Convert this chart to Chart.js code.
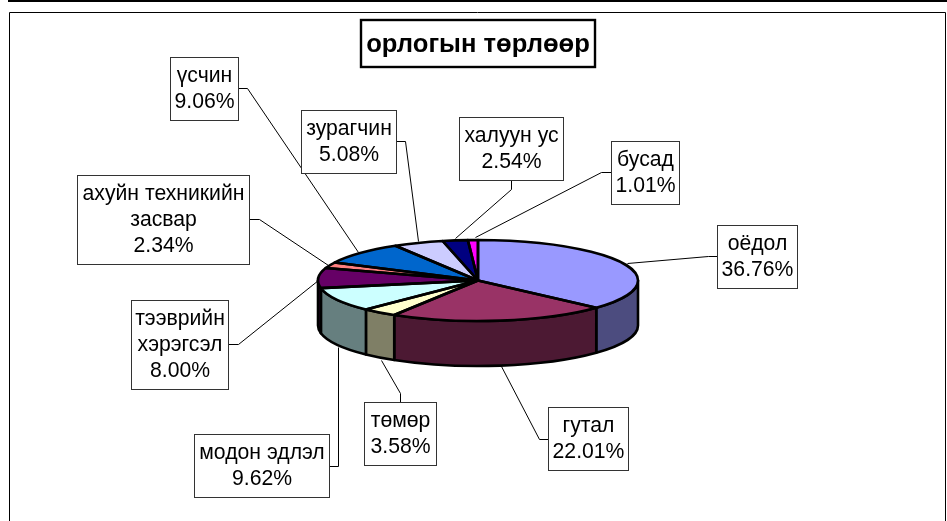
<!DOCTYPE html>
<html lang="mn">
<head>
  <meta charset="UTF-8">
  <title>орлогын төрлөөр</title>
  <script src="https://cdn.jsdelivr.net/npm/chart.js"></script>
  <style>
    html, body { margin: 0; padding: 0; background: #fff; overflow: hidden; }
    canvas { display: block; }
  </style>
</head>
<body>
<canvas id="grafik" width="947" height="521"></canvas>

<script>
  const chartTitle = 'орлогын төрлөөр';
  const categories = ['оёдол', 'гутал', 'төмөр', 'модон эдлэл', 'тээврийн хэрэгсэл',
    'ахуйн техникийн засвар', 'үсчин', 'зурагчин', 'халуун ус', 'бусад'];
  const shares = [36.76, 22.01, 3.58, 9.62, 8.00, 2.34, 9.06, 5.08, 2.54, 1.01];
  const topColors = ['#9999ff', '#993366', '#ffffcc', '#ccffff', '#660066',
    '#ff8080', '#0066cc', '#ccccff', '#000080', '#ff00ff'];
  const sideColors = ['#4c4c7f', '#4c1933', '#7f7f66', '#667f7f', '#330033',
    '#7f4040', '#003366', '#66667f', '#000040', '#7f007f'];

  // label boxes: x, y, w, h, then the leader line
  const labelBoxes = [
    { box: [717, 225, 80, 63], line: [[717, 256], [708, 256], [627, 263]] },
    { box: [548, 407, 80, 63], line: [[548, 439], [539, 439], [501, 366]] },
    { box: [364, 402, 72, 63], line: [[400, 402], [400, 393], [381, 360]] },
    { box: [194, 434, 135, 63], line: [[329, 466], [338, 466], [338, 347]] },
    { box: [131, 300, 97, 89], line: [[228, 344], [238, 344], [318, 280]] },
    { box: [77, 175, 172, 89], line: [[249, 219], [259, 219], [328, 265]] },
    { box: [170, 57, 68, 63], line: [[238, 88], [247, 88], [358, 252]] },
    { box: [301, 110, 95, 63], line: [[396, 141], [405, 141], [418, 241]] },
    { box: [459, 117, 104, 63], line: [[511, 180], [511, 189], [455, 238]] },
    { box: [611, 141, 68, 63], line: [[611, 172], [601, 172], [475, 237]] }
  ];

  const centerY = 280.5;
  const radiusY = 40.5;
  const depth = 45;
  const outline = 2.6;
  const lineGap = 25.8;

  // the pie is flattened by a transform, this keeps line widths even
  function ovalPath(ctx, el, from, to, dy, reverse) {
    const k = radiusY / el.outerRadius;
    ctx.ellipse(el.x, centerY + dy, el.outerRadius, el.outerRadius * k, 0, from, to, reverse);
  }

  function wrapText(ctx, text, maxWidth) {
    const lines = [];
    let line = '';
    text.split(' ').forEach(word => {
      const next = line ? line + ' ' + word : word;
      if (line && ctx.measureText(next).width > maxWidth) {
        lines.push(line);
        line = word;
      } else {
        line = next;
      }
    });
    lines.push(line);
    return lines;
  }

  const pie3d = {
    id: 'pie3d',
    beforeDraw(chart) {
      const ctx = chart.ctx;
      ctx.save();
      ctx.fillStyle = '#000';
      ctx.fillRect(8, 0, 939, 2);
      ctx.strokeStyle = '#000';
      ctx.lineWidth = 1;
      ctx.beginPath();
      ctx.moveTo(9.5, 521);
      ctx.lineTo(9.5, 12.5);
      ctx.lineTo(945.5, 12.5);
      ctx.lineTo(945.5, 521);
      ctx.stroke();
      ctx.restore();
    },
    beforeDatasetsDraw(chart) {
      const ctx = chart.ctx;
      const arcs = chart.getDatasetMeta(0).data;

      // side wall, only the front half of the oval shows
      ctx.save();
      ctx.strokeStyle = '#000';
      ctx.lineWidth = outline;
      ctx.lineJoin = 'round';
      arcs.forEach((el, i) => {
        const from = Math.max(el.startAngle, 0);
        const to = Math.min(el.endAngle, Math.PI);
        if (to <= from) return;
        ctx.beginPath();
        ovalPath(ctx, el, from, to, 0, false);
        ovalPath(ctx, el, to, from, depth, true);
        ctx.closePath();
        ctx.fillStyle = sideColors[i];
        ctx.fill();
        ctx.stroke();
      });
      ctx.restore();

      const first = arcs[0];
      ctx.save();
      ctx.translate(first.x, centerY);
      ctx.scale(1, radiusY / first.outerRadius);
      ctx.translate(-first.x, -first.y);
    },
    afterDatasetsDraw(chart) {
      const ctx = chart.ctx;
      ctx.restore();
      const arcs = chart.getDatasetMeta(0).data;

      ctx.save();
      ctx.strokeStyle = '#000';
      ctx.lineWidth = outline;
      ctx.lineJoin = 'round';
      arcs.forEach(el => {
        ctx.beginPath();
        ctx.moveTo(el.x, centerY);
        ovalPath(ctx, el, el.startAngle, el.endAngle, 0, false);
        ctx.closePath();
        ctx.stroke();
      });
      ctx.restore();

      // leader lines then boxes
      ctx.save();
      ctx.strokeStyle = '#000';
      ctx.lineWidth = 1;
      labelBoxes.forEach(lb => {
        ctx.beginPath();
        lb.line.forEach((p, n) => n ? ctx.lineTo(p[0] + 0.5, p[1] + 0.5) : ctx.moveTo(p[0] + 0.5, p[1] + 0.5));
        ctx.stroke();
      });
      ctx.font = '21.2px "Liberation Sans", Arial, sans-serif';
      ctx.textAlign = 'center';
      ctx.textBaseline = 'middle';
      labelBoxes.forEach((lb, i) => {
        const [x, y, w, h] = lb.box;
        ctx.fillStyle = '#fff';
        ctx.fillRect(x, y, w, h);
        ctx.strokeStyle = '#333';
        ctx.strokeRect(x + 0.5, y + 0.5, w, h);
        const lines = wrapText(ctx, categories[i], w - 6);
        lines.push(shares[i].toFixed(2) + '%');
        ctx.fillStyle = '#000';
        const top = y + h / 2 - (lines.length - 1) * lineGap / 2;
        lines.forEach((t, n) => ctx.fillText(t, x + w / 2 + 0.5, top + n * lineGap + 0.5));
      });

      // title box
      ctx.strokeStyle = '#000';
      ctx.lineWidth = 2.4;
      ctx.fillStyle = '#fff';
      ctx.fillRect(361, 20, 234, 47);
      ctx.strokeRect(361, 20, 234, 47);
      ctx.fillStyle = '#000';
      ctx.font = 'bold 25.6px "Liberation Sans", Arial, sans-serif';
      ctx.fillText(chartTitle, 478, 45);
      ctx.restore();
    }
  };

  new Chart(document.getElementById('grafik'), {
    type: 'pie',
    data: {
      labels: categories,
      datasets: [{
        data: shares,
        backgroundColor: topColors,
        borderWidth: 0,
        radius: 160
      }]
    },
    options: {
      responsive: false,
      animation: false,
      layout: { padding: { left: 9 } },
      plugins: {
        legend: { display: false },
        tooltip: { enabled: false }
      }
    },
    plugins: [pie3d]
  });
</script>
</body>
</html>
